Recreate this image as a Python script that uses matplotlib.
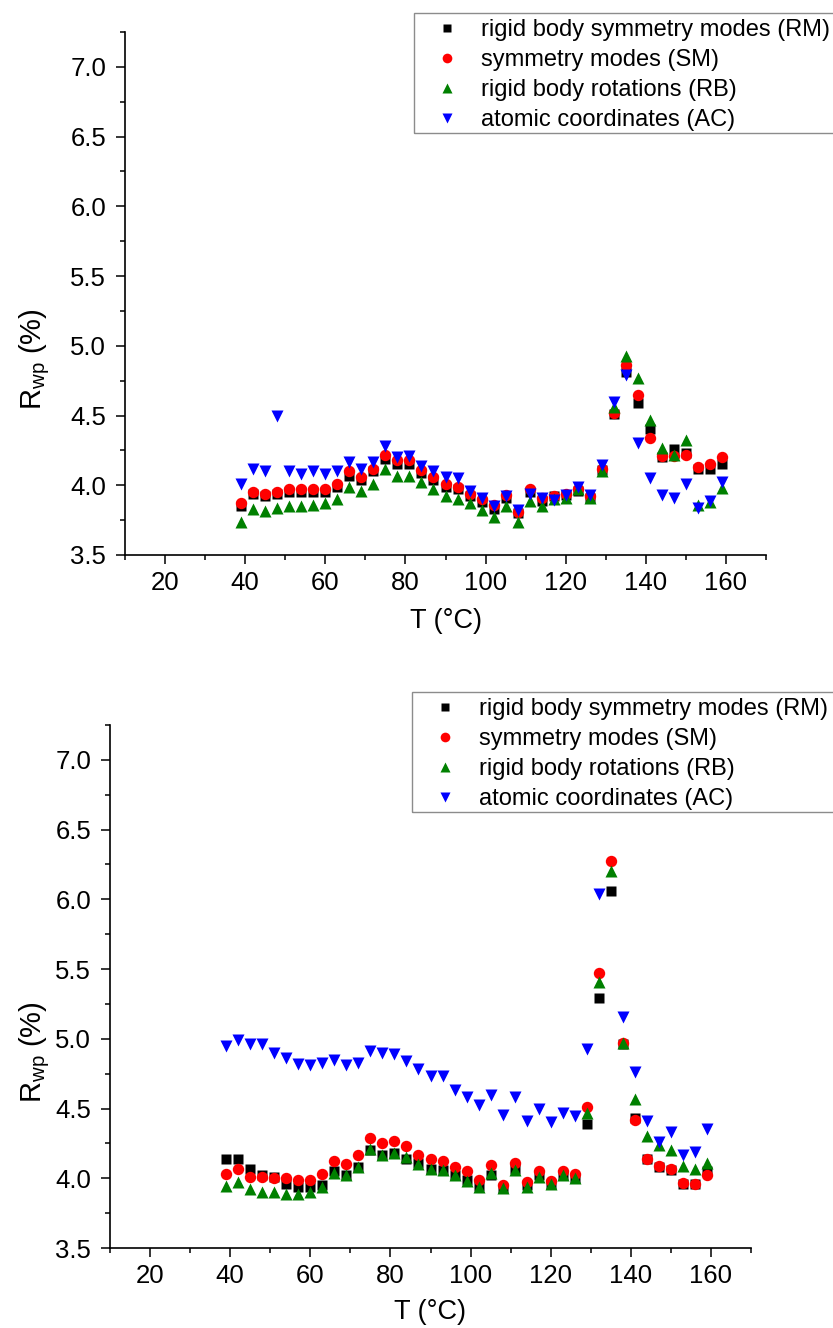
import numpy as np
import matplotlib
matplotlib.use('Agg')
import matplotlib.pyplot as plt
from matplotlib.patches import Rectangle
from matplotlib.ticker import MultipleLocator

plt.rcParams['font.family'] = ['Liberation Sans', 'DejaVu Sans']
plt.rcParams['mathtext.default'] = 'regular'

TEMPS = list(range(39, 160, 3))

LABELS = [
    'rigid body symmetry modes (RM)',
    'symmetry modes (SM)',
    'rigid body rotations (RB)',
    'atomic coordinates (AC)',
]

# upper panel
rm_top = [3.85, 3.94, 3.92, 3.94, 3.955, 3.955, 3.955, 3.955, 3.99, 4.07,
          4.04, 4.10, 4.19, 4.15, 4.15, 4.09, 4.04, 3.99, 3.97, 3.92,
          3.88, 3.83, 3.91, 3.80, 3.95, 3.89, 3.92, 3.93, 3.96, 3.91,
          4.11, 4.51, 4.81, 4.59, 4.40, 4.20, 4.26, 4.23, 4.12, 4.12, 4.15]
sm_top = [3.87, 3.95, 3.94, 3.955, 3.97, 3.97, 3.97, 3.97, 4.01, 4.10,
          4.06, 4.12, 4.22, 4.18, 4.18, 4.11, 4.06, 4.01, 3.99, 3.94,
          3.90, 3.86, 3.93, 3.81, 3.97, 3.91, 3.92, 3.94, 3.97, 3.92,
          4.12, 4.52, 4.86, 4.65, 4.34, 4.21, 4.21, 4.22, 4.13, 4.15, 4.20]
rb_top = [3.74, 3.83, 3.815, 3.835, 3.85, 3.85, 3.86, 3.87, 3.90, 3.99,
          3.96, 4.01, 4.12, 4.07, 4.07, 4.02, 3.97, 3.92, 3.905, 3.875,
          3.82, 3.775, 3.85, 3.74, 3.89, 3.85, 3.90, 3.91, 3.97, 3.91,
          4.10, 4.56, 4.93, 4.77, 4.47, 4.265, 4.22, 4.325, 3.86, 3.88, 3.98]
ac_top = [4.01, 4.115, 4.10, 4.50, 4.105, 4.08, 4.10, 4.08, 4.10, 4.165,
          4.12, 4.17, 4.28, 4.205, 4.21, 4.14, 4.10, 4.06, 4.05, 3.96,
          3.91, 3.85, 3.92, 3.82, 3.94, 3.907, 3.895, 3.93, 3.985, 3.93,
          4.146, 4.60, 4.79, 4.30, 4.05, 3.93, 3.91, 4.01, 3.835, 3.89, 4.02]

# lower panel
rm_bot = [4.136, 4.136, 4.07, 4.02, 4.01, 3.96, 3.94, 3.94, 3.95, 4.05,
          4.02, 4.08, 4.20, 4.17, 4.18, 4.14, 4.11, 4.07, 4.06, 4.02,
          3.99, 3.945, 4.02, 3.93, 4.07, 3.95, 4.02, 3.96, 4.02, 4.00,
          4.39, 5.295, 6.06, 4.96, 4.43, 4.14, 4.08, 4.06, 3.96, 3.96, 4.05]
sm_bot = [4.03, 4.065, 4.01, 4.01, 4.00, 4.00, 3.99, 3.99, 4.03, 4.126,
          4.10, 4.17, 4.29, 4.255, 4.27, 4.23, 4.17, 4.136, 4.126, 4.08,
          4.05, 3.99, 4.095, 3.95, 4.11, 3.97, 4.055, 3.98, 4.055, 4.03,
          4.51, 5.47, 6.276, 4.97, 4.42, 4.14, 4.09, 4.065, 3.965, 3.96, 4.02]
rb_bot = [3.945, 3.97, 3.92, 3.90, 3.90, 3.89, 3.885, 3.90, 3.94, 4.036,
          4.02, 4.08, 4.21, 4.17, 4.18, 4.15, 4.10, 4.07, 4.06, 4.02,
          3.98, 3.935, 4.036, 3.93, 4.06, 3.94, 4.01, 3.96, 4.02, 4.00,
          4.47, 5.41, 6.20, 4.97, 4.57, 4.30, 4.24, 4.20, 4.09, 4.065, 4.11]
ac_bot = [4.95, 4.99, 4.96, 4.96, 4.90, 4.86, 4.82, 4.81, 4.83, 4.85,
          4.81, 4.83, 4.91, 4.90, 4.89, 4.84, 4.78, 4.73, 4.73, 4.63,
          4.585, 4.525, 4.60, 4.455, 4.58, 4.41, 4.495, 4.405, 4.47, 4.45,
          4.925, 6.04, np.nan, 5.155, 4.765, 4.41, 4.26, 4.33, 4.17, 4.19, 4.35]

W, H = 833, 1328


def draw_panel(fig, rect, series, legend_left, legend_top, ylabel_x, xlabel_y):
    ax = fig.add_axes(rect)
    styles = [('s', 'black', 7.0), ('o', 'red', 8.2),
              ('^', 'green', 9.2), ('v', 'blue', 9.2)]
    for values, (marker, color, size), label in zip(series, styles, LABELS):
        ax.plot(TEMPS, values, marker, color=color, ms=size, mec='none',
                label=label)

    ax.set_xlim(10, 170)
    ax.set_ylim(3.5, 7.25)
    ax.set_xticks([20, 40, 60, 80, 100, 120, 140, 160])
    ax.xaxis.set_minor_locator(MultipleLocator(10))
    ax.yaxis.set_major_locator(MultipleLocator(0.5))
    ax.yaxis.set_minor_locator(MultipleLocator(0.25))
    ax.yaxis.set_major_formatter(plt.FormatStrFormatter('%.1f'))

    for side in ('top', 'right'):
        ax.spines[side].set_visible(False)
    for side in ('left', 'bottom'):
        ax.spines[side].set_linewidth(1.2)
    ax.tick_params(which='major', length=6.5, width=1.1, labelsize=18.5)
    ax.tick_params(axis='y', pad=7)
    ax.tick_params(axis='x', pad=5)
    ax.tick_params(which='minor', length=3.5, width=1.1)

    ax.set_xlabel('T (°C)', fontsize=19.5)
    ax.set_ylabel('$R_{wp}$ (%)', fontsize=21)
    ax.xaxis.set_label_coords(0.5, xlabel_y)
    ax.yaxis.set_label_coords(ylabel_x, 0.375)

    # legend box runs past the right edge of the figure, as in the original
    ax.legend(loc='upper left',
              bbox_to_anchor=(legend_left / W, 1 - (legend_top + 2.5) / H),
              bbox_transform=fig.transFigure, fontsize=17, markerscale=0.85,
              numpoints=1, handlelength=2.5, handletextpad=0.2,
              labelspacing=0.34, borderpad=0.15, borderaxespad=0,
              frameon=False)
    fig.add_artist(Rectangle((legend_left / W, 1 - (legend_top + 120) / H),
                             (W + 20 - legend_left) / W, 120 / H,
                             transform=fig.transFigure, fill=False,
                             edgecolor='0.55', linewidth=1.0))
    return ax


fig = plt.figure(figsize=(W / 100, H / 100), dpi=100)

draw_panel(fig, [125 / W, 1 - 555 / H, 641 / W, 523 / H],
           [rm_top, sm_top, rb_top, ac_top], 414, 13, -0.114, -0.102)
draw_panel(fig, [110 / W, 1 - 1248 / H, 641 / W, 523 / H],
           [rm_bot, sm_bot, rb_bot, ac_bot], 412, 692, -0.090, -0.097)

fig.savefig('out.png', dpi=100)
